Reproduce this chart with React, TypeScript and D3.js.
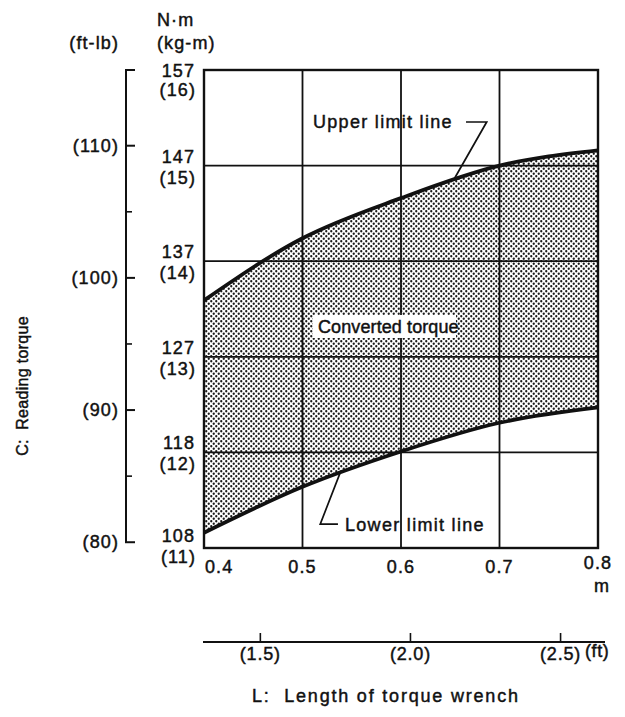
import React from "react";
import * as d3 from "d3";

// Data
const lengthM = [0.4, 0.5, 0.6, 0.7, 0.8];
const upperKgm = [13.59, 14.24, 14.66, 15.0, 15.16];
const lowerKgm = [11.16, 11.64, 12.01, 12.31, 12.47];

const xTicks = [0.4, 0.5, 0.6, 0.7, 0.8];
const kgmTicks = [11, 12, 13, 14, 15, 16];
const nmLabels = ["108", "118", "127", "137", "147", "157"];
const kgmLabels = ["(11)", "(12)", "(13)", "(14)", "(15)", "(16)"];
const ftlbMajor = [80, 90, 100, 110];
const ftlbMinor = [85, 95, 105];
const ftTicks = [1.5, 2.0, 2.5];
const ftLabels = ["(1.5)", "(2.0)", "(2.5)"];

const KGM_TO_FTLB = 7.233;
const FT_TO_M = 0.3048;

const W = 625;
const H = 717;
const FONT = "'Liberation Sans', Arial, Helvetica, sans-serif";

export default function App() {
  const x = d3.scaleLinear().domain([0.4, 0.8]).range([204, 598]);
  const y = d3.scaleLinear().domain([11, 16]).range([548, 70]);
  const yFt = (v: number) => y(v / KGM_TO_FTLB);
  const xFt = (v: number) => x(v * FT_TO_M);

  const pts = lengthM.map((l, i) => ({ l, u: upperKgm[i], lo: lowerKgm[i] }));
  const area = d3
    .area<any>()
    .x((d) => x(d.l))
    .y0((d) => y(d.lo))
    .y1((d) => y(d.u))
    .curve(d3.curveMonotoneX);
  const upperLine = d3
    .line<any>()
    .x((d) => x(d.l))
    .y((d) => y(d.u))
    .curve(d3.curveMonotoneX);
  const lowerLine = d3
    .line<any>()
    .x((d) => x(d.l))
    .y((d) => y(d.lo))
    .curve(d3.curveMonotoneX);

  const ink = "#111";
  const txt = {
    fontFamily: FONT,
    fontSize: 18,
    fill: ink,
    stroke: ink,
    strokeWidth: 0.45,
    letterSpacing: 1.1,
    whiteSpace: "pre",
  } as React.CSSProperties;
  const wide = { ...txt, letterSpacing: 1.3 } as React.CSSProperties;

  const nmOff = (i: number) => (i === 5 ? 7 : i === 0 ? -6 : -3);
  const kgOff = (i: number) => (i === 5 ? 26 : i === 0 ? 15 : 18);

  // leader lines (data units)
  const upLeader: [number, number][] = [
    [0.666, 15.456],
    [0.687, 15.456],
    [0.654, 14.86],
  ];
  const loLeader: [number, number][] = [
    [0.536, 11.25],
    [0.518, 11.25],
    [0.538, 11.78],
  ];
  const leader = d3
    .line<[number, number]>()
    .x((d) => x(d[0]))
    .y((d) => y(d[1]));

  return (
    <svg
      width={W}
      height={H}
      viewBox={`0 0 ${W} ${H}`}
      style={{ position: "absolute", left: 0, top: 0, background: "#fff" }}
    >
      <defs>
        <pattern id="dots" width={5} height={5} patternUnits="userSpaceOnUse">
          <circle cx={1.25} cy={1.25} r={1.15} fill="#1a1a1a" />
          <circle cx={3.75} cy={3.75} r={1.15} fill="#1a1a1a" />
        </pattern>
      </defs>
      <rect width={W} height={H} fill="#fff" />

      {/* shaded band */}
      <path d={area(pts) || ""} fill="url(#dots)" />

      {/* grid */}
      {xTicks.slice(1, -1).map((t) => (
        <line key={"gx" + t} x1={x(t)} x2={x(t)} y1={y(16)} y2={y(11)} stroke={ink} strokeWidth={1.8} />
      ))}
      {kgmTicks.slice(1, -1).map((t) => (
        <line key={"gy" + t} x1={x(0.4)} x2={x(0.8)} y1={y(t)} y2={y(t)} stroke={ink} strokeWidth={1.8} />
      ))}
      <rect
        x={x(0.4)}
        y={y(16)}
        width={x(0.8) - x(0.4)}
        height={y(11) - y(16)}
        fill="none"
        stroke={ink}
        strokeWidth={2.4}
      />

      {/* limit curves */}
      <path d={upperLine(pts) || ""} fill="none" stroke={ink} strokeWidth={3.8} />
      <path d={lowerLine(pts) || ""} fill="none" stroke={ink} strokeWidth={3.8} />

      {/* annotations */}
      <text x={313} y={y(15.456) + 6} style={wide}>Upper limit line</text>
      <path d={leader(upLeader) || ""} fill="none" stroke={ink} strokeWidth={1.7} />
      <rect x={313} y={315} width={143} height={23} fill="#fff" />
      <text x={318} y={333} style={{ ...txt, letterSpacing: 0.1 }}>Converted torque</text>
      <text x={345} y={y(11.25) + 7} style={wide}>Lower limit line</text>
      <path d={leader(loLeader) || ""} fill="none" stroke={ink} strokeWidth={1.7} />

      {/* N·m / kg-m labels */}
      <text x={157} y={26} style={txt}>N·m</text>
      <text x={157} y={49} style={txt}>(kg-m)</text>
      {kgmTicks.map((t, i) => (
        <g key={"kl" + t}>
          <text x={195} y={y(t) + nmOff(i)} textAnchor="end" style={txt}>{nmLabels[i]}</text>
          <text x={196} y={y(t) + kgOff(i)} textAnchor="end" style={txt}>{kgmLabels[i]}</text>
        </g>
      ))}

      {/* ft-lb axis */}
      <text x={119} y={49} textAnchor="end" style={txt}>(ft-lb)</text>
      <line x1={126} x2={126} y1={y(16)} y2={yFt(80)} stroke={ink} strokeWidth={2} />
      <line x1={125} x2={135} y1={y(16)} y2={y(16)} stroke={ink} strokeWidth={2} />
      {ftlbMajor.map((t) => (
        <g key={"fl" + t}>
          <line x1={125} x2={135} y1={yFt(t)} y2={yFt(t)} stroke={ink} strokeWidth={2} />
          <text x={119} y={yFt(t) + 6} textAnchor="end" style={txt}>({t})</text>
        </g>
      ))}
      {ftlbMinor.map((t) => (
        <line key={"fm" + t} x1={125} x2={132} y1={yFt(t)} y2={yFt(t)} stroke={ink} strokeWidth={1.6} />
      ))}
      <text
        transform={`translate(28,386) rotate(-90)`}
        textAnchor="middle"
        style={{ ...txt, fontSize: 16, letterSpacing: 0.3 }}
      >
        C:  Reading torque
      </text>

      {/* x tick labels (m) */}
      {xTicks.map((t, i) => (
        <text
          key={"xl" + t}
          x={i === 0 ? x(t) + 1 : x(t)}
          y={i === 4 ? 569 : 573}
          textAnchor={i === 0 ? "start" : "middle"}
          style={txt}
        >
          {t.toFixed(1)}
        </text>
      ))}
      <text x={602} y={592} textAnchor="middle" style={txt}>m</text>

      {/* ft axis */}
      <line x1={203} x2={605} y1={642} y2={642} stroke={ink} strokeWidth={1.8} />
      {ftTicks.map((t, i) => (
        <g key={"ft" + t}>
          <line x1={xFt(t)} x2={xFt(t)} y1={642} y2={633} stroke={ink} strokeWidth={1.6} />
          <text x={xFt(t)} y={660} textAnchor="middle" style={{ ...txt, letterSpacing: 0.8 }}>
            {ftLabels[i]}
          </text>
        </g>
      ))}
      <text x={585} y={657} style={{ ...txt, letterSpacing: 0.6 }}>(ft)</text>
      <text x={252} y={702} style={{ ...txt, letterSpacing: 1.8 }}>
        L:  Length of torque wrench
      </text>
    </svg>
  );
}
